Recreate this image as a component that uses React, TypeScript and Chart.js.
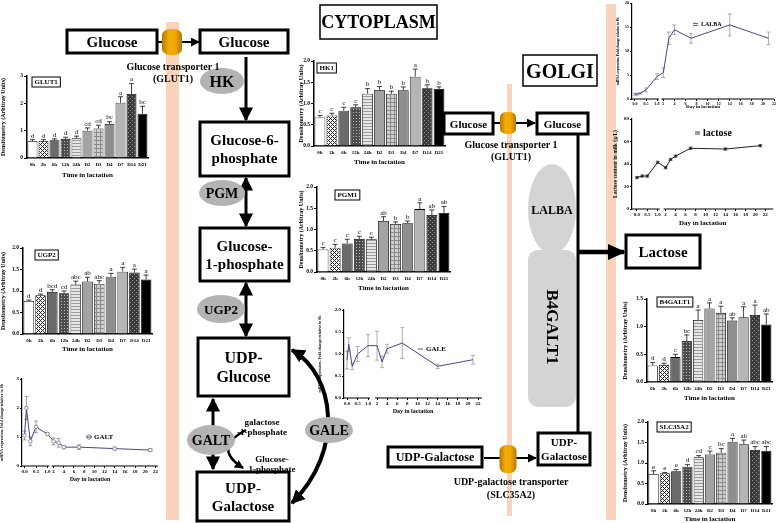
import React, { useEffect, useRef } from "react";
import { Chart, registerables } from "chart.js";
Chart.register(...registerables);

const FONT = "'Liberation Serif', 'Times New Roman', serif";

// ---------------- data ----------------
const timeLabels = ["0h", "2h", "6h", "12h", "24h", "D2", "D3", "D4", "D7", "D14", "D21"];
const lactationDays = [0, 0.083, 0.25, 0.5, 1, 2, 3, 4, 7, 14, 21];
const lactoseDays = [0, 0.25, 0.5, 1, 2, 3, 4, 7, 14, 21];
const dayTicks = [0, 0.5, 1, 2, 4, 6, 8, 10, 12, 14, 16, 18, 20, 22];
const dayTickLabels = ["0.0", "0.5", "1.0", "2", "4", "6", "8", "10", "12", "14", "16", "18", "20", "22"];

const glut1Values = [0.62, 0.62, 0.65, 0.7, 0.72, 1.0, 1.08, 1.25, 2.02, 2.34, 1.62];
const glut1Errors = [0.05, 0.05, 0.05, 0.06, 0.08, 0.1, 0.12, 0.08, 0.22, 0.38, 0.27];
const glut1Letters = ["d", "d", "d", "d", "d", "cd", "cd", "bc", "a", "a", "bc"];

const ugp2Values = [0.77, 0.9, 0.98, 0.95, 1.15, 1.22, 1.17, 1.33, 1.45, 1.43, 1.27];
const ugp2Errors = [0.02, 0.03, 0.05, 0.05, 0.08, 0.1, 0.07, 0.08, 0.1, 0.08, 0.1];
const ugp2Letters = ["d", "d", "bcd", "cd", "abc", "ab", "abc", "a", "a", "a", "a"];

const hk1Values = [0.67, 0.72, 0.83, 0.91, 1.23, 1.32, 1.23, 1.31, 1.63, 1.36, 1.34];
const hk1Errors = [0.05, 0.05, 0.08, 0.06, 0.12, 0.08, 0.06, 0.08, 0.18, 0.08, 0.05];
const hk1Letters = ["c", "c", "c", "c", "b", "b", "b", "b", "a", "b", "b"];

const pgm1Values = [0.53, 0.57, 0.67, 0.78, 0.77, 1.2, 1.13, 1.15, 1.48, 1.34, 1.39];
const pgm1Errors = [0.05, 0.08, 0.1, 0.06, 0.05, 0.1, 0.05, 0.05, 0.15, 0.12, 0.15];
const pgm1Letters = ["c", "c", "c", "c", "c", "ab", "b", "b", "a", "ab", "ab"];

const b4galt1Values = [0.3, 0.31, 0.45, 0.74, 1.12, 1.33, 1.25, 1.11, 1.17, 1.21, 1.04];
const b4galt1Errors = [0.05, 0.03, 0.05, 0.11, 0.18, 0.1, 0.12, 0.05, 0.19, 0.18, 0.19];
const b4galt1Letters = ["d", "d", "c", "bc", "a", "a", "a", "ab", "a", "a", "ab"];

const slc35a2Values = [0.73, 0.75, 0.8, 0.91, 1.14, 1.21, 1.25, 1.52, 1.46, 1.32, 1.3];
const slc35a2Errors = [0.08, 0.02, 0.04, 0.05, 0.04, 0.08, 0.1, 0.08, 0.1, 0.08, 0.1];
const slc35a2Letters = ["e", "e", "e", "d", "cd", "c", "bc", "a", "ab", "abc", "abc"];

const galtValues = [1.05, 2.0, 0.85, 1.35, 1.1, 0.85, 0.8, 0.65, 0.65, 0.6, 0.55];
const galtErrors = [0.15, 0.4, 0.15, 0.2, 0.05, 0.12, 0.15, 0.06, 0.08, 0.05, 0.05];

const galeValues = [0.86, 1.22, 0.72, 1.0, 1.19, 1.19, 0.82, 1.12, 1.25, 0.72, 0.87];
const galeErrors = [0.2, 0.15, 0.07, 0.17, 0.25, 0.33, 0.13, 0.1, 0.35, 0.05, 0.1];

const lalbaValues = [1.0, 1.0, 1.2, 1.9, 4.7, 5.5, 12.7, 14.5, 12.7, 15.5, 12.7];
const lalbaErrors = [0.2, 0.2, 0.2, 0.4, 0.6, 1.0, 1.3, 1.0, 1.0, 2.3, 1.3];

const lactoseValues = [28, 29.3, 29.3, 41.5, 36.7, 44, 47, 54, 53.3, 56.3];
const lactoseErrors = [1, 1, 1, 1, 1, 1, 1, 1, 1, 1];

// ---------------- helpers ----------------
function tile(size: number, draw: (c: CanvasRenderingContext2D) => void): any {
  const cv = document.createElement("canvas");
  cv.width = size;
  cv.height = size;
  const c = cv.getContext("2d") as CanvasRenderingContext2D;
  draw(c);
  return c.createPattern(cv, "repeat");
}

function barFills(): any[] {
  return [
    "#ffffff",
    tile(4, (c) => {
      c.fillStyle = "#ffffff"; c.fillRect(0, 0, 4, 4);
      c.fillStyle = "#222"; c.fillRect(0, 0, 1, 1); c.fillRect(2, 2, 1, 1); c.fillRect(1, 1, 1, 1); c.fillRect(3, 3, 1, 1);
      c.fillRect(3, 1, 1, 1); c.fillRect(1, 3, 1, 1);
    }),
    "#6b6b6b",
    tile(3, (c) => {
      c.fillStyle = "#4c4c4c"; c.fillRect(0, 0, 3, 3);
      c.fillStyle = "#bdbdbd"; c.fillRect(1, 1, 1, 1);
    }),
    tile(3, (c) => {
      c.fillStyle = "#e6e6e6"; c.fillRect(0, 0, 3, 3);
      c.fillStyle = "#9a9a9a"; c.fillRect(0, 0, 3, 1);
    }),
    "#a3a3a3",
    tile(4, (c) => {
      c.fillStyle = "#cfcfcf"; c.fillRect(0, 0, 4, 4);
      c.fillStyle = "#8a8a8a"; c.fillRect(0, 0, 4, 1); c.fillRect(0, 0, 1, 4);
    }),
    "#8e8e8e",
    "#b5b5b5",
    tile(4, (c) => {
      c.fillStyle = "#3a3a3a"; c.fillRect(0, 0, 4, 4);
      c.fillStyle = "#9a9a9a"; c.fillRect(0, 0, 1, 1); c.fillRect(2, 2, 1, 1);
    }),
    "#000000",
  ];
}

type BarSpec = {
  name: string; values: number[]; errors: number[]; letters: string[];
  yMax: number; yStep: number; digits: number;
  yW: number; xH: number; padTop: number; padRight: number;
  nameDx: number; nameDy: number;
};

function makeBarConfig(s: BarSpec): any {
  const decor = {
    id: "barDecor",
    afterDatasetsDraw(chart: any) {
      const ctx = chart.ctx;
      const meta = chart.getDatasetMeta(0);
      const ys = chart.scales.y;
      ctx.save();
      meta.data.forEach((el: any, i: number) => {
        const x = el.x;
        const top = ys.getPixelForValue(s.values[i]);
        const et = ys.getPixelForValue(s.values[i] + s.errors[i]);
        ctx.strokeStyle = "#111";
        ctx.lineWidth = 0.8;
        ctx.beginPath();
        ctx.moveTo(x, top);
        ctx.lineTo(x, et);
        ctx.moveTo(x - 2.5, et);
        ctx.lineTo(x + 2.5, et);
        ctx.stroke();
        ctx.fillStyle = "#000";
        ctx.font = `7px ${FONT}`;
        ctx.textAlign = "center";
        ctx.textBaseline = "bottom";
        ctx.fillText(s.letters[i], x, et - 0.5);
      });
      const ca = chart.chartArea;
      ctx.font = `bold 7px ${FONT}`;
      const w = ctx.measureText(s.name).width + 5;
      const bx = ca.left + s.nameDx;
      const by = ca.top + s.nameDy;
      ctx.fillStyle = "#fff";
      ctx.fillRect(bx, by, w, 10);
      ctx.strokeStyle = "#000";
      ctx.lineWidth = 1;
      ctx.strokeRect(bx, by, w, 10);
      ctx.fillStyle = "#000";
      ctx.textAlign = "left";
      ctx.textBaseline = "middle";
      ctx.fillText(s.name, bx + 2.5, by + 5.5);
      ctx.restore();
    },
  };
  return {
    type: "bar",
    data: {
      labels: timeLabels,
      datasets: [{
        data: s.values, backgroundColor: barFills(), borderColor: "#000", borderWidth: 0.8,
        barPercentage: 0.9, categoryPercentage: 1,
      }],
    },
    options: {
      animation: false, responsive: false, maintainAspectRatio: false, events: [],
      layout: { padding: { top: s.padTop, right: s.padRight, left: 0, bottom: 0 } },
      plugins: { legend: { display: false }, tooltip: { enabled: false } },
      scales: {
        x: {
          offset: true,
          grid: { display: false, drawTicks: false },
          border: { color: "#000", width: 1.5 },
          ticks: { font: { size: 5, weight: "bold", family: FONT }, color: "#000", padding: 4, maxRotation: 0, autoSkip: false },
          title: { display: true, text: "Time in lactation", font: { size: 7, weight: "bold", family: FONT }, color: "#000", padding: 0 },
          afterFit: (sc: any) => { sc.height = s.xH; },
        },
        y: {
          min: 0, max: s.yMax,
          grid: { drawOnChartArea: false, color: "#000", tickLength: 3 },
          border: { color: "#000", width: 1.5 },
          ticks: {
            stepSize: s.yStep, font: { size: 5.5, weight: "bold", family: FONT }, color: "#000", padding: 1,
            callback: (v: any) => Number(v).toFixed(s.digits),
          },
          title: { display: true, text: "Densitometry (Arbitray Units)", font: { size: 6, weight: "bold", family: FONT }, color: "#000", padding: 0 },
          afterFit: (sc: any) => { sc.width = s.yW; },
        },
      },
    },
    plugins: [decor],
  };
}

type LineSpec = {
  days: number[]; values: number[]; errors: number[];
  color: string; pointFill: string; pointStroke: string; pointRadius: number;
  k1: number; gap: number; xMin: number; xMax: number;
  yMax: number; yStep: number; digits: number;
  yTitle: string; yTitleSize: number; xTitleSize: number; tickSize: number;
  yW: number; xH: number; padTop: number; padRight: number;
  legend: string; legendDx: number; legendDy: number; legendSize: number; legendSymbol: string;
  errColor: string;
};

function makeLineConfig(s: LineSpec): any {
  const f = (d: number) => (d <= 1 ? d * s.k1 : s.k1 + s.gap + (d - 2));
  const decor = {
    id: "lineDecor",
    beforeDatasetsDraw(chart: any) {
      const ctx = chart.ctx;
      const xs = chart.scales.x;
      const ys = chart.scales.y;
      ctx.save();
      ctx.strokeStyle = s.errColor;
      ctx.lineWidth = 0.8;
      s.days.forEach((d, i) => {
        const x = xs.getPixelForValue(f(d));
        const y1 = ys.getPixelForValue(s.values[i] + s.errors[i]);
        const y2 = ys.getPixelForValue(Math.max(0, s.values[i] - s.errors[i]));
        ctx.beginPath();
        ctx.moveTo(x, y1); ctx.lineTo(x, y2);
        ctx.moveTo(x - 2, y1); ctx.lineTo(x + 2, y1);
        ctx.moveTo(x - 2, y2); ctx.lineTo(x + 2, y2);
        ctx.stroke();
      });
      ctx.restore();
    },
    afterDraw(chart: any) {
      const ctx = chart.ctx;
      const xs = chart.scales.x;
      const ca = chart.chartArea;
      ctx.save();
      ctx.strokeStyle = "#000";
      ctx.lineWidth = 1.2;
      const a = xs.getPixelForValue(f(1)) + 2;
      const b = xs.getPixelForValue(f(2)) - 2;
      ctx.beginPath();
      ctx.moveTo(ca.left, ca.bottom); ctx.lineTo(a, ca.bottom);
      ctx.moveTo(b, ca.bottom); ctx.lineTo(ca.right, ca.bottom);
      ctx.stroke();
      const lx = ca.left + s.legendDx;
      const ly = ca.top + s.legendDy;
      ctx.lineWidth = 0.9;
      if (s.legendSymbol === "circle") {
        ctx.strokeStyle = "#777";
        ctx.beginPath(); ctx.arc(lx + 3, ly, 2.2, 0, Math.PI * 2); ctx.stroke();
        ctx.strokeStyle = s.color;
        ctx.beginPath(); ctx.moveTo(lx, ly); ctx.lineTo(lx + 6, ly); ctx.stroke();
      } else if (s.legendSymbol === "double") {
        ctx.strokeStyle = s.color;
        ctx.beginPath(); ctx.moveTo(lx, ly - 1); ctx.lineTo(lx + 5, ly - 1); ctx.moveTo(lx, ly + 1); ctx.lineTo(lx + 5, ly + 1); ctx.stroke();
      } else {
        ctx.strokeStyle = s.color;
        ctx.beginPath(); ctx.moveTo(lx, ly); ctx.lineTo(lx + 5, ly); ctx.stroke();
      }
      ctx.fillStyle = "#000";
      ctx.font = `bold ${s.legendSize}px ${FONT}`;
      ctx.textAlign = "left";
      ctx.textBaseline = "middle";
      ctx.fillText(s.legend, lx + 8, ly + 0.5);
      ctx.restore();
    },
  };
  return {
    type: "line",
    data: {
      datasets: [{
        data: s.days.map((d, i) => ({ x: f(d), y: s.values[i] })),
        borderColor: s.color, borderWidth: 1, tension: 0,
        pointRadius: s.pointRadius, pointBackgroundColor: s.pointFill, pointBorderColor: s.pointStroke, pointBorderWidth: 0.8,
      }],
    },
    options: {
      animation: false, responsive: false, maintainAspectRatio: false, events: [],
      layout: { padding: { top: s.padTop, right: s.padRight, left: 0, bottom: 0 } },
      plugins: { legend: { display: false }, tooltip: { enabled: false } },
      scales: {
        x: {
          type: "linear", min: s.xMin, max: s.xMax,
          grid: { drawOnChartArea: false, color: "#000", tickLength: 2 },
          border: { display: false },
          afterBuildTicks: (sc: any) => { sc.ticks = dayTicks.map((d) => ({ value: f(d) })); },
          ticks: {
            font: { size: s.tickSize, weight: "bold", family: FONT }, color: "#000", padding: 1, maxRotation: 0, autoSkip: false,
            callback: (_v: any, i: number) => dayTickLabels[i],
          },
          title: { display: true, text: "Day in lactation", font: { size: s.xTitleSize, weight: "bold", family: FONT }, color: "#000", padding: 0 },
          afterFit: (sc: any) => { sc.height = s.xH; },
        },
        y: {
          min: 0, max: s.yMax,
          grid: { drawOnChartArea: false, color: "#000", tickLength: 2 },
          border: { color: "#000", width: 1.2 },
          ticks: {
            stepSize: s.yStep, font: { size: s.tickSize, weight: "bold", family: FONT }, color: "#000", padding: 1,
            callback: (v: any) => Number(v).toFixed(s.digits),
          },
          title: { display: true, text: s.yTitle, font: { size: s.yTitleSize, weight: "bold", family: FONT }, color: "#000", padding: 0 },
          afterFit: (sc: any) => { sc.width = s.yW; },
        },
      },
    },
    plugins: [decor],
  };
}

function ChartCanvas(props: { left: number; top: number; width: number; height: number; make: () => any }) {
  const ref = useRef<HTMLCanvasElement | null>(null);
  useEffect(() => {
    const chart = new Chart(ref.current as HTMLCanvasElement, props.make());
    return () => chart.destroy();
  }, []);
  return (
    <canvas
      ref={ref}
      width={props.width}
      height={props.height}
      style={{ position: "absolute", left: props.left, top: props.top, width: props.width, height: props.height }}
    />
  );
}

// ---------------- diagram pieces ----------------
function Box(p: { x: number; y: number; w: number; h: number; lines: string[]; fs: number; sw?: number }) {
  const n = p.lines.length;
  const lh = p.fs * 1.2;
  return (
    <g>
      <rect x={p.x} y={p.y} width={p.w} height={p.h} fill="#fff" stroke="#000" strokeWidth={p.sw ?? 3} />
      {p.lines.map((t, i) => (
        <text key={i} x={p.x + p.w / 2} y={p.y + p.h / 2 + (i - (n - 1) / 2) * lh} textAnchor="middle"
          dominantBaseline="central" fontSize={p.fs} fontWeight="bold" fontFamily={FONT}>{t}</text>
      ))}
    </g>
  );
}

function Enzyme(p: { cx: number; cy: number; rx: number; ry: number; label: string; fs: number; fill?: string }) {
  return (
    <g>
      <ellipse cx={p.cx} cy={p.cy} rx={p.rx} ry={p.ry} fill={p.fill ?? "#b3b3b3"} />
      <text x={p.cx} y={p.cy + 0.5} textAnchor="middle" dominantBaseline="central" fontSize={p.fs} fontWeight="bold" fontFamily={FONT}>{p.label}</text>
    </g>
  );
}

function Capsule(p: { cx: number; cy: number; rx: number; ry: number }) {
  return <rect x={p.cx - p.rx} y={p.cy - p.ry} width={p.rx * 2} height={p.ry * 2} rx={p.rx * 0.8} ry={p.ry * 0.45} fill="url(#capGrad)" />;
}

function Label(p: { x: number; y: number; t: string; fs: number; anchor?: string }) {
  return (
    <text x={p.x} y={p.y} textAnchor={(p.anchor as any) ?? "middle"} dominantBaseline="central" fontSize={p.fs}
      fontWeight="bold" fontFamily={FONT}>{p.t}</text>
  );
}

export default function App() {
  const W = 778;
  const H = 523;
  const peach = "#f9d3ba";
  return (
    <div style={{ position: "absolute", left: 0, top: 0, width: W, height: H, background: "#fff", overflow: "hidden" }}>
      <svg width={W} height={H} style={{ position: "absolute", left: 0, top: 0 }}>
        <rect x={166} y={22} width={13} height={498} fill={peach} />
        <rect x={507} y={84} width={5} height={432} fill={peach} />
        <rect x={606} y={4} width={10} height={516} fill={peach} />
      </svg>

      <ChartCanvas left={0} top={68} width={152} height={111} make={() => makeBarConfig({
        name: "GLUT1", values: glut1Values, errors: glut1Errors, letters: glut1Letters,
        yMax: 3, yStep: 1, digits: 0, yW: 27, xH: 21, padTop: 8, padRight: 4, nameDx: 5, nameDy: 1,
      })} />
      <ChartCanvas left={0} top={240} width={155} height={113} make={() => makeBarConfig({
        name: "UGP2", values: ugp2Values, errors: ugp2Errors, letters: ugp2Letters,
        yMax: 2, yStep: 0.5, digits: 1, yW: 23, xH: 19, padTop: 8, padRight: 3, nameDx: 12, nameDy: 2,
      })} />
      <ChartCanvas left={298} top={54} width={150} height={112} make={() => makeBarConfig({
        name: "HK1", values: hk1Values, errors: hk1Errors, letters: hk1Letters,
        yMax: 2, yStep: 0.5, digits: 1, yW: 16, xH: 20, padTop: 7, padRight: 3, nameDx: 3, nameDy: 2,
      })} />
      <ChartCanvas left={298} top={180} width={155} height={112} make={() => makeBarConfig({
        name: "PGM1", values: pgm1Values, errors: pgm1Errors, letters: pgm1Letters,
        yMax: 2, yStep: 0.5, digits: 1, yW: 19, xH: 20, padTop: 7, padRight: 3, nameDx: 18, nameDy: 3,
      })} />
      <ChartCanvas left={622} top={290} width={156} height={112} make={() => makeBarConfig({
        name: "B4GALT1", values: b4galt1Values, errors: b4galt1Errors, letters: b4galt1Letters,
        yMax: 1.5, yStep: 0.5, digits: 1, yW: 25, xH: 20, padTop: 9, padRight: 6, nameDx: 10, nameDy: -2,
      })} />
      <ChartCanvas left={622} top={414} width={156} height={109} make={() => makeBarConfig({
        name: "SLC35A2", values: slc35a2Values, errors: slc35a2Errors, letters: slc35a2Letters,
        yMax: 2, yStep: 0.5, digits: 1, yW: 26, xH: 19, padTop: 8, padRight: 6, nameDx: 9, nameDy: 0,
      })} />

      <ChartCanvas left={0} top={372} width={163} height={111} make={() => makeLineConfig({
        days: lactationDays, values: galtValues, errors: galtErrors,
        color: "#3f4696", pointFill: "#fff", pointStroke: "#777", pointRadius: 1.8,
        k1: 4.5, gap: 1.2, xMin: -0.5, xMax: 26.2, yMax: 3, yStep: 1, digits: 0,
        yTitle: "mRNA expression, Fold change relative to 0h", yTitleSize: 4, xTitleSize: 6, tickSize: 5,
        yW: 22, xH: 17, padTop: 7, padRight: 5,
        legend: "GALT", legendDx: 64, legendDy: 58, legendSize: 7, legendSymbol: "circle", errColor: "#888",
      })} />
      <ChartCanvas left={318} top={303} width={169} height={112} make={() => makeLineConfig({
        days: lactationDays, values: galeValues, errors: galeErrors,
        color: "#3f4696", pointFill: "#fff", pointStroke: "#3f4696", pointRadius: 0,
        k1: 4.16, gap: 1.78, xMin: -0.6, xMax: 26.73, yMax: 2, yStep: 0.5, digits: 1,
        yTitle: "mRNA expression, Fold change relative to 0h", yTitleSize: 4, xTitleSize: 6, tickSize: 5,
        yW: 26, xH: 17, padTop: 7, padRight: 5,
        legend: "GALE", legendDx: 74, legendDy: 39, legendSize: 7, legendSymbol: "line", errColor: "#999",
      })} />
      <ChartCanvas left={616} top={0} width={162} height={110} make={() => makeLineConfig({
        days: lactationDays, values: lalbaValues, errors: lalbaErrors,
        color: "#3f4696", pointFill: "#fff", pointStroke: "#3f4696", pointRadius: 0,
        k1: 3.98, gap: 1.14, xMin: -0.54, xMax: 25.12, yMax: 20, yStep: 5, digits: 0,
        yTitle: "mRNA expression, Fold change relative to 0h", yTitleSize: 3.5, xTitleSize: 5, tickSize: 4,
        yW: 16, xH: 11, padTop: 2, padRight: 4,
        legend: "LALBA", legendDx: 61, legendDy: 21, legendSize: 6, legendSymbol: "double", errColor: "#999",
      })} />
      <ChartCanvas left={612} top={111} width={166} height={116} make={() => makeLineConfig({
        days: lactoseDays, values: lactoseValues, errors: lactoseErrors,
        color: "#222", pointFill: "#222", pointStroke: "#222", pointRadius: 1,
        k1: 4.16, gap: 1.58, xMin: -1, xMax: 27.32, yMax: 80, yStep: 20, digits: 0,
        yTitle: "Lactose content in milk (g/L)", yTitleSize: 5.5, xTitleSize: 7, tickSize: 5,
        yW: 20, xH: 18, padTop: 8, padRight: 3,
        legend: "lactose", legendDx: 63, legendDy: 14, legendSize: 10, legendSymbol: "double", errColor: "#666",
      })} />

      <svg width={W} height={H} style={{ position: "absolute", left: 0, top: 0, pointerEvents: "none" }}>
        <defs>
          <linearGradient id="capGrad" x1="0" x2="1" y1="0" y2="0">
            <stop offset="0" stopColor="#b87900" />
            <stop offset="0.35" stopColor="#f2ac0c" />
            <stop offset="0.65" stopColor="#f0a800" />
            <stop offset="1" stopColor="#b87900" />
          </linearGradient>
          <marker id="ahS" viewBox="0 0 10 10" refX="9" refY="5" markerWidth="9" markerHeight="9" markerUnits="userSpaceOnUse" orient="auto-start-reverse">
            <path d="M0,0 L10,5 L0,10 z" fill="#000" />
          </marker>
          <marker id="ahB" viewBox="0 0 10 10" refX="9" refY="5" markerWidth="14" markerHeight="14" markerUnits="userSpaceOnUse" orient="auto-start-reverse">
            <path d="M0,0 L10,5 L0,10 z" fill="#000" />
          </marker>
          <marker id="ahL" viewBox="0 0 10 10" refX="9" refY="5" markerWidth="18" markerHeight="16" markerUnits="userSpaceOnUse" orient="auto-start-reverse" preserveAspectRatio="none">
            <path d="M0,0 L10,5 L0,10 z" fill="#000" />
          </marker>
        </defs>

        {/* CYTOPLASM side */}
        <Box x={320} y={5} w={117} h={34} lines={["CYTOPLASM"]} fs={18} sw={1.5} />
        <line x1={158} y1={42} x2={199} y2={42} stroke="#000" strokeWidth={2} markerEnd="url(#ahS)" />
        <Box x={67} y={30} w={90} h={23} lines={["Glucose"]} fs={15} />
        <Capsule cx={172} cy={42} rx={10} ry={13} />
        <Box x={200} y={30} w={88} h={23} lines={["Glucose"]} fs={15} />

        <line x1={246} y1={57} x2={246} y2={120} stroke="#000" strokeWidth={3} markerEnd="url(#ahB)" />
        <Enzyme cx={222} cy={81} rx={22} ry={13} label="HK" fs={16} />
        <Label x={173} y={66} t="Glucose transporter 1" fs={10} />
        <Label x={173} y={78} t="(GLUT1)" fs={10} />
        <Box x={200} y={122} w={89} h={54} lines={["Glucose-6-", "phosphate"]} fs={15} />
        <line x1={246} y1={178} x2={246} y2={226} stroke="#000" strokeWidth={3} markerStart="url(#ahB)" markerEnd="url(#ahB)" />
        <Enzyme cx={222} cy={193} rx={23} ry={13} label="PGM" fs={14} />
        <Box x={200} y={228} w={89} h={53} lines={["Glucose-", "1-phosphate"]} fs={15} />
        <line x1={246} y1={283} x2={246} y2={336} stroke="#000" strokeWidth={3} markerStart="url(#ahB)" markerEnd="url(#ahB)" />
        <Enzyme cx={221} cy={309} rx={24} ry={14} label="UGP2" fs={13} />
        <Box x={198} y={338} w={91} h={58} lines={["UDP-", "Glucose"]} fs={16} />

        <line x1={213} y1={399} x2={213} y2={469} stroke="#000" strokeWidth={3} markerStart="url(#ahB)" markerEnd="url(#ahB)" />
        <path d="M 246 430 Q 212 448 243 468" fill="none" stroke="#000" strokeWidth={2.5} markerEnd="url(#ahS)" />
        <Enzyme cx={211} cy={440} rx={24} ry={15} label="GALT" fs={14} />
        <Label x={262} y={422} t="galactose" fs={9} />
        <Label x={262} y={432} t="-1-phosphate" fs={9} />
        <Box x={197} y={472} w={92} h={49} lines={["UDP-", "Galactose"]} fs={15} />
        <path d="M 292 350 C 335 375, 345 450, 292 503" fill="none" stroke="#000" strokeWidth={4} markerStart="url(#ahB)" markerEnd="url(#ahB)" />
        <Label x={272} y={459} t="Glucose-" fs={9} />
        <Label x={272} y={469} t="1-phosphate" fs={9} />
        <Enzyme cx={329} cy={430} rx={24} ry={13} label="GALE" fs={14} />

        {/* GOLGI side */}
        <Box x={523} y={55} w={74} h={31} lines={["GOLGI"]} fs={20} sw={1.5} />
        <line x1={493} y1={123} x2={535} y2={123} stroke="#000" strokeWidth={2} markerEnd="url(#ahS)" />
        <Box x={444} y={113} w={49} h={21} lines={["Glucose"]} fs={11} />
        <Capsule cx={508} cy={123} rx={8} ry={11} />
        <Box x={537} y={113} w={51} h={21} lines={["Glucose"]} fs={11} />
        <Label x={511} y={144} t="Glucose transporter 1" fs={10} />
        <Label x={511} y={156} t="(GLUT1)" fs={10} />

        <line x1={578} y1={134} x2={578} y2={433} stroke="#000" strokeWidth={3} />
        <ellipse cx={552} cy={209} rx={24} ry={45} fill="#d4d4d4" />
        <text x={552} y={210} textAnchor="middle" dominantBaseline="central" fontSize={12} fontWeight="bold" fontFamily={FONT}>LALBA</text>
        <rect x={528} y={250} width={48} height={157} rx={10} fill="#d4d4d4" />
        <text x={552} y={327} textAnchor="middle" dominantBaseline="central" fontSize={17} fontWeight="bold" fontFamily={FONT}
          transform="rotate(90 552 327)">B4GALT1</text>
        <line x1={578} y1={252} x2={624} y2={252} stroke="#000" strokeWidth={4.5} markerEnd="url(#ahL)" />
        <Box x={626} y={235} w={74} h={33} lines={["Lactose"]} fs={15} />

        <line x1={484} y1={458} x2={536} y2={458} stroke="#000" strokeWidth={2} markerEnd="url(#ahS)" />
        <Box x={388} y={447} w={94} h={20} lines={["UDP-Galactose"]} fs={12} />
        <Capsule cx={508} cy={459} rx={8.5} ry={14} />
        <Box x={538} y={433} w={52} h={32} lines={["UDP-", "Galactose"]} fs={11} />
        <Label x={511} y={481} t="UDP-galactose transporter" fs={10} />
        <Label x={511} y={494} t="(SLC35A2)" fs={10} />
      </svg>
    </div>
  );
}
